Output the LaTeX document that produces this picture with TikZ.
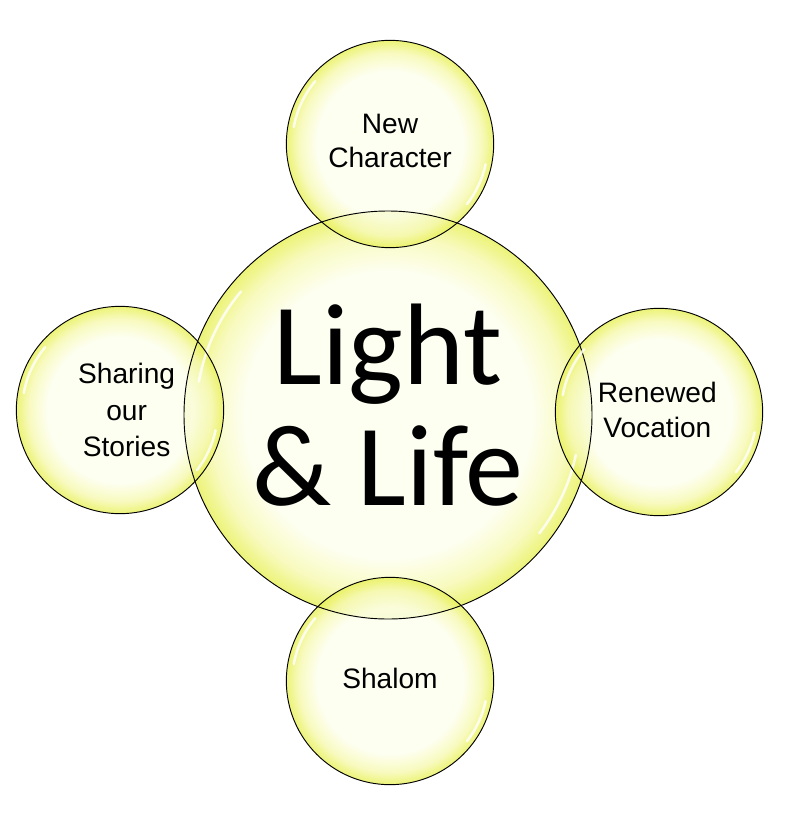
\documentclass[tikz,border=0pt]{standalone}
\usepackage{fontspec}
\setmainfont{Liberation Sans}
\newfontfamily\bigfont{Carlito}
\usetikzlibrary{positioning}

\definecolor{bubbleedge}{RGB}{232,240,85}
\definecolor{bubblesoft}{RGB}{246,249,175}
\definecolor{bubblemid}{RGB}{253,255,238}

\pgfdeclareradialshading{bubbleshade}{\pgfpoint{0bp}{0bp}}{%
  color(0bp)=(bubblemid); color(17.5bp)=(bubblemid);
  color(22bp)=(bubblesoft); color(25bp)=(bubbleedge); color(50bp)=(bubbleedge)}

\tikzset{
  bubble/.style={circle, inner sep=0pt,
    shading=bubbleshade, fill opacity=0.8, text opacity=1, align=center},
  hub/.style={bubble, minimum size=12.24cm},
  petal/.style={bubble, minimum size=6.22cm},
  rim/.style={black, line width=0.8pt},
  gloss/.style={white, line width=2.2pt, line cap=round, opacity=0.8}
}

\begin{document}
\begin{tikzpicture}[x=0.03cm,y=-0.03cm]
  \useasboundingbox (0,0) rectangle (800,818);
  \node (hub)
        [hub]
        at (388,415)
        {};
  \node (character)
        [petal]
        at (390,144)
        {};
  \node (stories)
        [petal]
        at (120,410)
        {};
  \node (vocation)
        [petal]
        at (659,412)
        {};
  \node (shalom)
        [petal]
        at (390,681)
        {};

  % outlines and glossy highlights, drawn over all the fills
  \foreach \n/\r/\g in {hub/6.12cm/5.76cm, character/3.11cm/2.93cm, stories/3.11cm/2.93cm,
                        vocation/3.11cm/2.93cm, shalom/3.11cm/2.93cm} {
    \draw[rim] (\n.center) circle[radius=\r];
    \draw[gloss] ([shift={(140:\g)}]\n.center) arc[start angle=140, end angle=170, radius=\g];
    \draw[gloss] ([shift={(-12:\g)}]\n.center) arc[start angle=-12, end angle=-38, radius=\g];
  }

  % labels on top of the bubbles
  \node (hubtext) [align=center, font=\bigfont\fontsize{99}{105}\selectfont]
        at ([yshift=0.3cm]hub) {Light\\[-2pt]\& Life};
  \node (charactertext) [align=center, font=\fontsize{24}{29}\selectfont]
        at ([yshift=0.08cm]character) {New\\Character};
  \node (storiestext) [align=center, font=\fontsize{24}{31}\selectfont]
        at ([xshift=0.2cm]stories) {Sharing\\our\\Stories};
  \node (vocationtext) [align=center, font=\fontsize{24}{30}\selectfont]
        at ([xshift=-0.05cm,yshift=0.06cm]vocation) {Renewed\\Vocation};
  \node (shalomtext) [font=\fontsize{24}{29}\selectfont]
        at ([yshift=0.08cm]shalom) {Shalom};
\end{tikzpicture}
\end{document}
